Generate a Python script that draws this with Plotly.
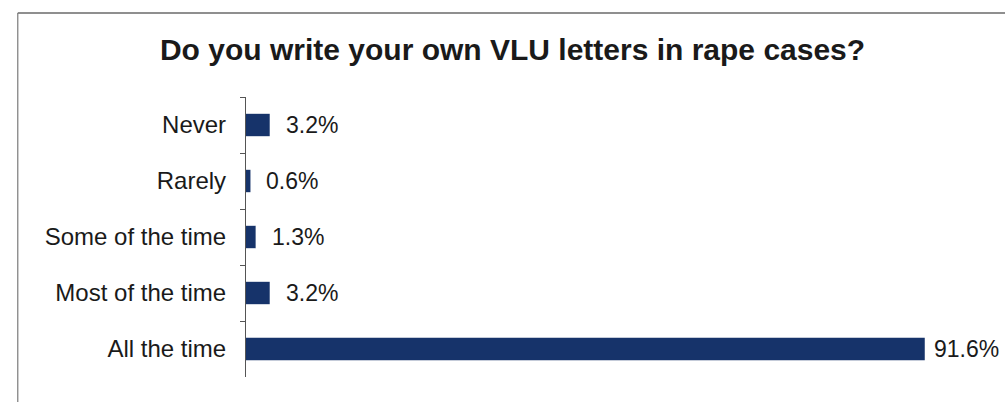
import plotly.graph_objects as go

# Survey responses, top to bottom
categories = ["Never", "Rarely", "Some of the time", "Most of the time", "All the time"]
percentages = [3.2, 0.6, 1.3, 3.2, 91.6]
title_text = "Do you write your own VLU letters in rape cases?"

bar_color = "#16336A"
text_color = "#1a1a1a"
font_family = "Liberation Sans, Arial, sans-serif"

fig = go.Figure(
    go.Bar(
        x=percentages,
        y=categories,
        orientation="h",
        marker=dict(color=bar_color, line=dict(width=0)),
        width=0.4,
        hoverinfo="skip",
    )
)

# value labels to the right of each bar (long bar label kept tight so it fits)
for cat, val in zip(categories, percentages):
    fig.add_annotation(
        x=val, y=cat, xref="x", yref="y",
        text=f"{val:.1f}%", showarrow=False,
        xanchor="left", yanchor="middle", xshift=7 if val > 50 else 14,
        font=dict(family=font_family, size=23, color=text_color),
    )

# page frame: top rule and left rule
fig.add_shape(type="line", xref="paper", yref="paper", x0=-0.308, x1=1.05, y0=1.3, y1=1.3,
              line=dict(color="#6a6a6a", width=1.5))
fig.add_shape(type="line", xref="paper", yref="paper", x0=-0.308, x1=-0.308, y0=-0.1, y1=1.3,
              line=dict(color="#7a7a7a", width=1.2))

fig.update_layout(
    width=1005,
    height=402,
    margin=dict(l=246, r=18, t=97, b=25),
    paper_bgcolor="white",
    plot_bgcolor="white",
    showlegend=False,
    title=dict(
        text=f"<b>{title_text}</b>",
        x=0.51, xanchor="center",
        y=1 - 49 / 402, yanchor="middle",
        font=dict(family=font_family, size=30, color=text_color),
    ),
    xaxis=dict(
        range=[0, 100],
        showgrid=False, zeroline=False, showline=False,
        showticklabels=False, ticks="",
    ),
    yaxis=dict(
        categoryorder="array",
        categoryarray=categories,
        autorange="reversed",
        showgrid=False, zeroline=False,
        showline=True, linecolor="#555555", linewidth=1.2,
        ticks="outside", tickson="boundaries", ticklen=5, tickcolor="#555555",
        ticklabelstandoff=14,
        tickfont=dict(family=font_family, size=24, color=text_color),
    ),
)

fig.write_html("out.html")
